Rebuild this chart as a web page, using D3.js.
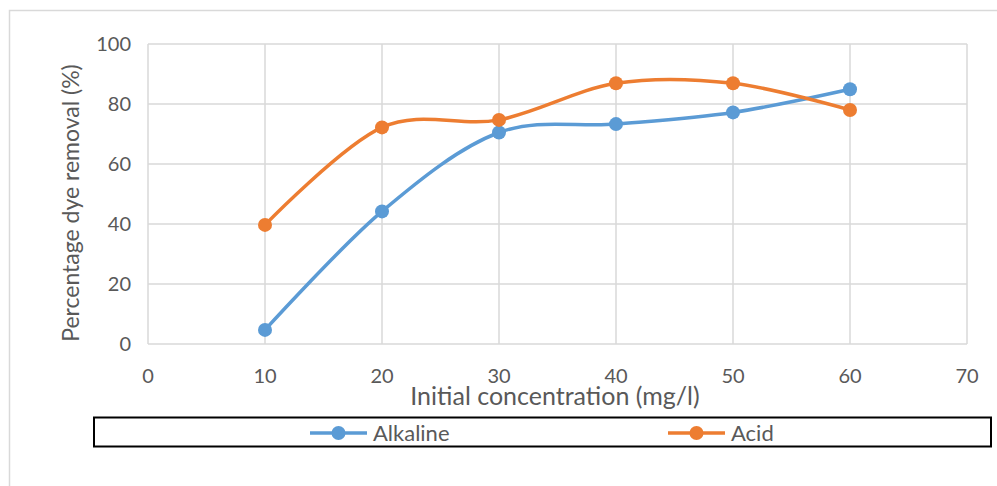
<!DOCTYPE html>
<html>
<head>
<meta charset="utf-8">
<title>Percentage dye removal</title>
<script src="https://d3js.org/d3.v7.min.js"></script>
<style>
  body { margin: 0; background: #fff; }
  text { font-family: Lato, "Open Sans", sans-serif; fill: #595959; }
</style>
</head>
<body>
<script>
var concentrations = [10, 20, 30, 40, 50, 60];
var alkaline = [4.7, 44.2, 70.5, 73.3, 77.2, 84.9];
var acid = [39.7, 72.2, 74.7, 86.9, 86.9, 78];
var xTicks = [0, 10, 20, 30, 40, 50, 60, 70];
var yTicks = [0, 20, 40, 60, 80, 100];
var seriesNames = ["Alkaline", "Acid"];
var seriesColors = ["#5B9BD5", "#ED7D31"];

var W = 997, H = 486;
var plot = {left: 148, right: 967, top: 44, bottom: 344};

var svg = d3.select("body").append("svg")
    .attr("width", W).attr("height", H);

// outer chart frame
svg.append("path")
    .attr("d", "M9.5,486 V10.5 H997")
    .attr("fill", "none")
    .attr("stroke", "#d9d9d9")
    .attr("stroke-width", 1.5);

var x = d3.scaleLinear().domain([0, 70]).range([plot.left, plot.right]);
var y = d3.scaleLinear().domain([0, 100]).range([plot.bottom, plot.top]);

// gridlines
svg.append("g").selectAll("line").data(yTicks).join("line")
    .attr("x1", plot.left).attr("x2", plot.right)
    .attr("y1", function(d) { return y(d); }).attr("y2", function(d) { return y(d); })
    .attr("stroke", "#d9d9d9").attr("stroke-width", 1.5);

svg.append("g").selectAll("line").data(xTicks).join("line")
    .attr("x1", function(d) { return x(d); }).attr("x2", function(d) { return x(d); })
    .attr("y1", plot.top).attr("y2", plot.bottom)
    .attr("stroke", "#d9d9d9").attr("stroke-width", 1.5);

// tick labels
svg.append("g").selectAll("text").data(yTicks).join("text")
    .attr("x", 131)
    .attr("y", function(d) { return y(d); })
    .attr("dy", "0.35em")
    .attr("text-anchor", "end")
    .style("font-size", "20px")
    .text(function(d) { return d; });

svg.append("g").selectAll("text").data(xTicks).join("text")
    .attr("x", function(d) { return x(d); })
    .attr("y", 383)
    .attr("text-anchor", "middle")
    .style("font-size", "20px")
    .text(function(d) { return d; });

// axis titles
svg.append("text")
    .attr("transform", "translate(79,203) rotate(-90)")
    .attr("text-anchor", "middle")
    .style("font-size", "23px")
    .text("Percentage dye removal (%)");

svg.append("text")
    .attr("x", 555)
    .attr("y", 405)
    .attr("text-anchor", "middle")
    .style("font-size", "25px")
    .text("Initial concentration (mg/l)");

// series
var line = d3.line()
    .x(function(d) { return x(d[0]); })
    .y(function(d) { return y(d[1]); })
    .curve(d3.curveCatmullRom.alpha(0));

[alkaline, acid].forEach(function(vals, i) {
    var pts = concentrations.map(function(c, j) { return [c, vals[j]]; });
    svg.append("path")
        .datum(pts)
        .attr("d", line)
        .attr("fill", "none")
        .attr("stroke", seriesColors[i])
        .attr("stroke-width", 3.5);
    svg.append("g").selectAll("circle").data(pts).join("circle")
        .attr("cx", function(d) { return x(d[0]); })
        .attr("cy", function(d) { return y(d[1]); })
        .attr("r", 7)
        .attr("fill", seriesColors[i]);
});

// legend
svg.append("rect")
    .attr("x", 94).attr("y", 417.5)
    .attr("width", 897).attr("height", 29)
    .attr("fill", "none")
    .attr("stroke", "#000")
    .attr("stroke-width", 2);

var legendX = [310, 668];
seriesNames.forEach(function(name, i) {
    var g = svg.append("g").attr("transform", "translate(" + legendX[i] + ",433)");
    g.append("line")
        .attr("x1", 0).attr("x2", 57)
        .attr("stroke", seriesColors[i]).attr("stroke-width", 3.5);
    g.append("circle")
        .attr("cx", 28.5).attr("r", 7)
        .attr("fill", seriesColors[i]);
    g.append("text")
        .attr("x", 63).attr("dy", "0.35em")
        .style("font-size", "22px")
        .text(name);
});
</script>
</body>
</html>
